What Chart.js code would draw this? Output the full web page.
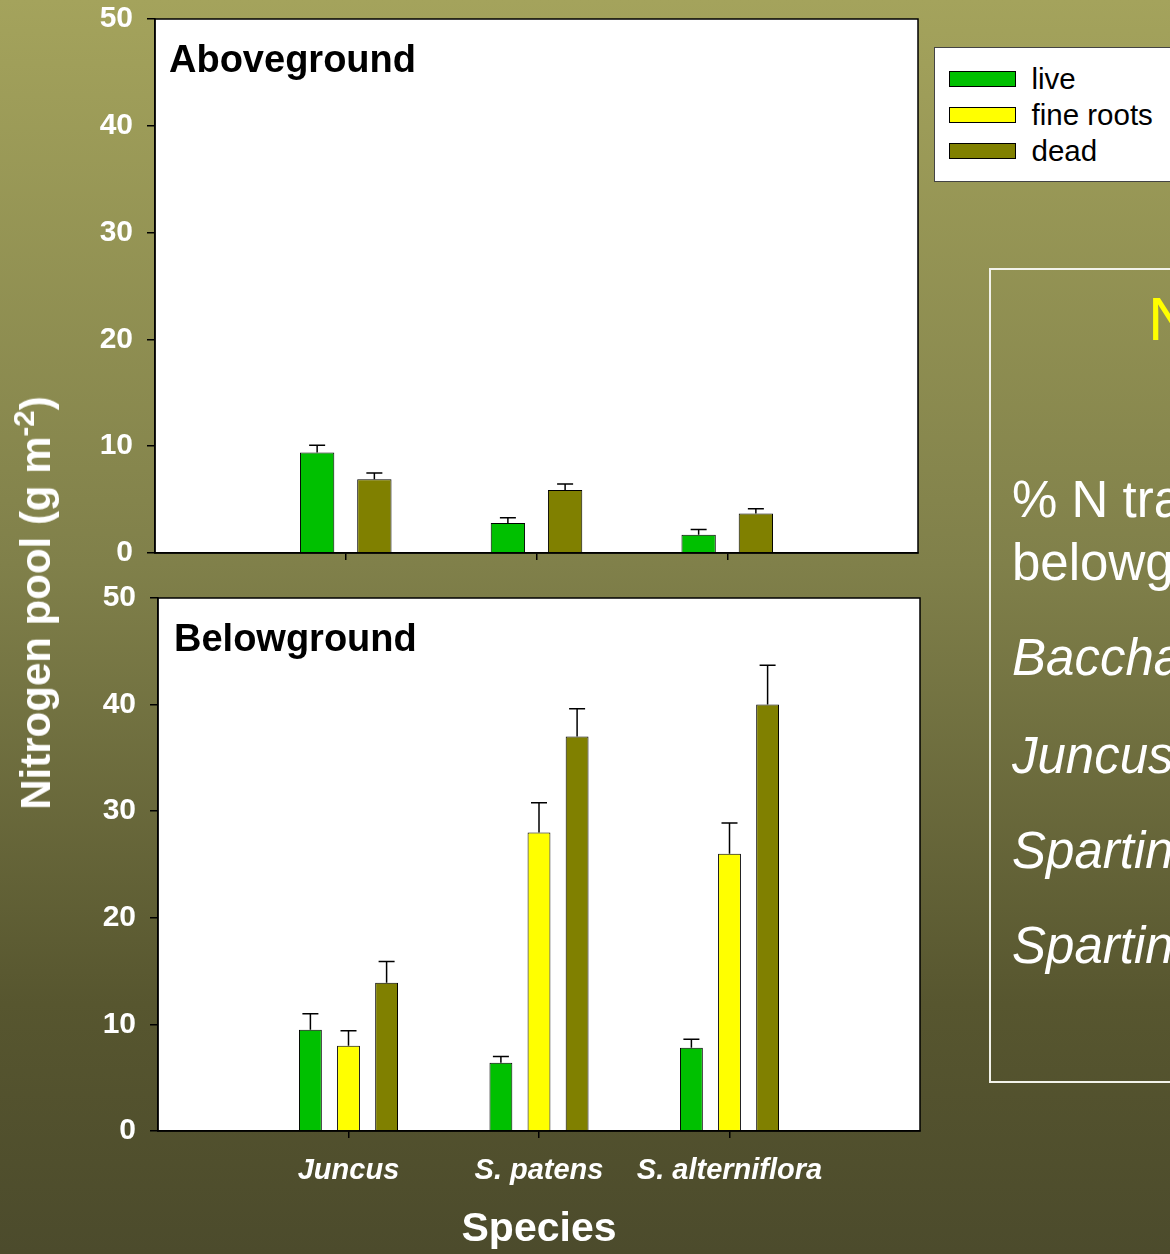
<!DOCTYPE html>
<html>
<head>
<meta charset="utf-8">
<script src="https://cdn.jsdelivr.net/npm/chart.js@4.4.1/dist/chart.umd.min.js"></script>
<style>
  html, body { margin: 0; padding: 0; }
  body {
    width: 1170px; height: 1254px; overflow: hidden; position: relative;
    background: linear-gradient(to bottom, #a4a35c 0%, #80804a 45%, #57562f 80%, #4c4b2c 100%);
    font-family: "Liberation Sans", Arial, sans-serif;
  }
  canvas { position: absolute; left: 0; }
  #chartAbove { top: 0; }
  #chartBelow { top: 575px; }
  .panelLabel { position: absolute; font-weight: bold; font-size: 38px; line-height: 38px; color: #000; white-space: nowrap; }
  #yTitle {
    position: absolute; left: 36px; top: 603px;
    transform: translate(-50%, -50%) rotate(-90deg);
    font-weight: bold; font-size: 42px; line-height: 42px; color: #fff; white-space: nowrap;
  }
  #yTitle sup { font-size: 0.7em; line-height: 0; vertical-align: 0.55em; }
  #legend {
    position: absolute; left: 934px; top: 47px; width: 260px; height: 135px;
    box-sizing: border-box; background: #fff; border: 1.5px solid #444;
  }
  .swatch { position: absolute; left: 13.5px; width: 67px; height: 16px; box-sizing: border-box; border: 1px solid #000; }
  .legText { position: absolute; left: 96.5px; font-size: 29.5px; line-height: 29px; color: #000; white-space: nowrap; }
  #note {
    position: absolute; left: 989px; top: 268px; width: 400px; height: 815px;
    box-sizing: border-box; border: 2px solid #f2f2ea;
  }
  .noteLine { position: absolute; left: 1012px; font-size: 51px; line-height: 51px; color: #fff; white-space: nowrap; }
  .noteLine.it { font-style: italic; }
  #noteHead { position: absolute; left: 1148px; top: 288px; font-size: 62px; line-height: 62px; color: #ffff00; white-space: nowrap; }
</style>
</head>
<body>
<canvas id="chartAbove" width="930" height="575"></canvas>
<canvas id="chartBelow" width="930" height="679"></canvas>

<div class="panelLabel" style="left:169px; top:40px;">Aboveground</div>
<div class="panelLabel" style="left:174px; top:619px;">Belowground</div>
<div id="yTitle">Nitrogen pool (g m<sup>-2</sup>)</div>

<div id="legend"></div>

<div id="note"></div>
<div id="noteHead">N allocation</div>
<div class="noteLine" style="top:474px;">% N transferred</div>
<div class="noteLine" style="top:537px;">belowground</div>
<div class="noteLine it" style="top:632px;">Baccharis</div>
<div class="noteLine it" style="top:730px;">Juncus</div>
<div class="noteLine it" style="top:825px;">Spartina patens</div>
<div class="noteLine it" style="top:920px;">Spartina alterniflora</div>

<script>
// Species on the x axis
const species = ['Juncus', 'S. patens', 'S. alterniflora'];
// Pool names and fill colours
const seriesNames = ['live', 'fine roots', 'dead'];
const seriesColors = ['#00c000', '#ffff00', '#808000'];
// Y axis ticks, g N m-2
const yTicks = [0, 10, 20, 30, 40, 50];

// Aboveground N pools: means and standard errors
const aboveLive = [9.4, 2.8, 1.7];
const aboveLiveSE = [0.7, 0.5, 0.5];
const aboveDead = [6.9, 5.9, 3.7];
const aboveDeadSE = [0.6, 0.55, 0.45];

// Belowground N pools: means and standard errors
const belowLive = [9.5, 6.4, 7.8];
const belowLiveSE = [1.5, 0.6, 0.8];
const belowRoots = [8.0, 28.0, 26.0];
const belowRootsSE = [1.4, 2.8, 2.9];
const belowDead = [13.9, 37.0, 40.0];
const belowDeadSE = [2.0, 2.6, 3.7];

const FONT = '"Liberation Sans", Arial, sans-serif';
Chart.defaults.font.family = FONT;

// empty slots at both ends put the species at 1/4, 1/2 and 3/4 of the axis
const pad = arr => [null, ...arr, null];
const axisLabels = pad(species).map(v => v == null ? '' : v);

// legend
const legend = document.getElementById('legend');
seriesNames.forEach((name, i) => {
  const sw = document.createElement('div');
  sw.className = 'swatch';
  sw.style.top = (22.5 + i * 36) + 'px';
  sw.style.background = seriesColors[i];
  legend.appendChild(sw);
  const tx = document.createElement('div');
  tx.className = 'legText';
  tx.style.top = (16 + i * 36) + 'px';
  tx.textContent = name;
  legend.appendChild(tx);
});

// white plotting area, standard-error whiskers and frame
const panelPlugin = {
  id: 'panel',
  beforeDraw(chart) {
    const { ctx, chartArea: a } = chart;
    ctx.save();
    ctx.fillStyle = '#ffffff';
    ctx.fillRect(a.left, a.top, a.right - a.left, a.bottom - a.top);
    ctx.restore();
  },
  afterDatasetsDraw(chart) {
    const ctx = chart.ctx;
    const yScale = chart.scales.y;
    ctx.save();
    ctx.strokeStyle = '#000';
    ctx.lineWidth = 1.5;
    chart.data.datasets.forEach((ds, i) => {
      const meta = chart.getDatasetMeta(i);
      meta.data.forEach((bar, j) => {
        const v = ds.data[j];
        const e = ds.errors[j];
        if (v == null || e == null) return;
        const yTop = yScale.getPixelForValue(v + e);
        ctx.beginPath();
        ctx.moveTo(bar.x, bar.y);
        ctx.lineTo(bar.x, yTop);
        ctx.moveTo(bar.x - 8, yTop);
        ctx.lineTo(bar.x + 8, yTop);
        ctx.stroke();
      });
    });
    ctx.restore();
  },
  afterDraw(chart) {
    const { ctx, chartArea: a } = chart;
    ctx.save();
    ctx.strokeStyle = '#000';
    ctx.lineWidth = 1.5;
    ctx.strokeRect(a.left, a.top, a.right - a.left, a.bottom - a.top);
    ctx.restore();
  }
};

// fixed axis boxes, so the layout padding alone sets the plotting area
function fixBox(s, size) {
  if (s.isHorizontal()) s.height = size; else s.width = size;
  s.paddingTop = 0; s.paddingBottom = 0; s.paddingLeft = 0; s.paddingRight = 0;
}

function makeDataset(idx, values, errors) {
  return {
    label: seriesNames[idx],
    data: pad(values),
    errors: pad(errors),
    backgroundColor: seriesColors[idx],
    borderColor: '#000',
    borderWidth: 1,
    categoryPercentage: 0.6,
    barPercentage: 0.6
  };
}

function makeChart(canvasId, datasets, cfg) {
  return new Chart(document.getElementById(canvasId), {
    type: 'bar',
    data: { labels: axisLabels, datasets },
    plugins: [panelPlugin],
    options: {
      responsive: false,
      animation: false,
      devicePixelRatio: 1,
      layout: { padding: cfg.padding },
      plugins: { legend: { display: false }, tooltip: { enabled: false } },
      scales: {
        x: {
          offset: false,
          grid: {
            offset: false,
            drawOnChartArea: false,
            drawTicks: true,
            tickLength: 7,
            lineWidth: 1.5,
            color: c => (c.index === 0 || c.index === axisLabels.length - 1) ? 'rgba(0,0,0,0)' : '#000'
          },
          border: { display: true, color: '#000', width: 1.5 },
          ticks: {
            display: cfg.showXLabels,
            autoSkip: false,
            maxRotation: 0,
            minRotation: 0,
            padding: 16,
            color: '#ffffff',
            font: { family: FONT, size: 29, weight: 'bold', style: 'italic' }
          },
          title: {
            display: cfg.showXTitle,
            text: 'Species',
            color: '#ffffff',
            padding: { top: 0, bottom: 0 },
            font: { family: FONT, size: 41, weight: 'bold' }
          },
          afterFit: s => fixBox(s, cfg.xHeight)
        },
        y: {
          min: yTicks[0],
          max: yTicks[yTicks.length - 1],
          afterBuildTicks: s => { s.ticks = yTicks.map(v => ({ value: v })); },
          grid: {
            drawOnChartArea: false,
            drawTicks: true,
            tickLength: 8,
            lineWidth: 1.5,
            color: '#000'
          },
          border: { display: true, color: '#000', width: 1.5 },
          ticks: {
            padding: 14,
            color: '#ffffff',
            font: { family: FONT, size: 30, weight: 'bold' }
          },
          afterFit: s => fixBox(s, cfg.yWidth)
        }
      }
    }
  });
}

makeChart('chartAbove', [
  makeDataset(0, aboveLive, aboveLiveSE),
  makeDataset(2, aboveDead, aboveDeadSE)
], { padding: { top: 19, right: 12, bottom: 0, left: 0 }, xHeight: 22, yWidth: 155, showXLabels: false, showXTitle: false });

makeChart('chartBelow', [
  makeDataset(0, belowLive, belowLiveSE),
  makeDataset(1, belowRoots, belowRootsSE),
  makeDataset(2, belowDead, belowDeadSE)
], { padding: { top: 23, right: 10, bottom: 0, left: 0 }, xHeight: 123, yWidth: 158, showXLabels: true, showXTitle: true });
</script>
</body>
</html>
